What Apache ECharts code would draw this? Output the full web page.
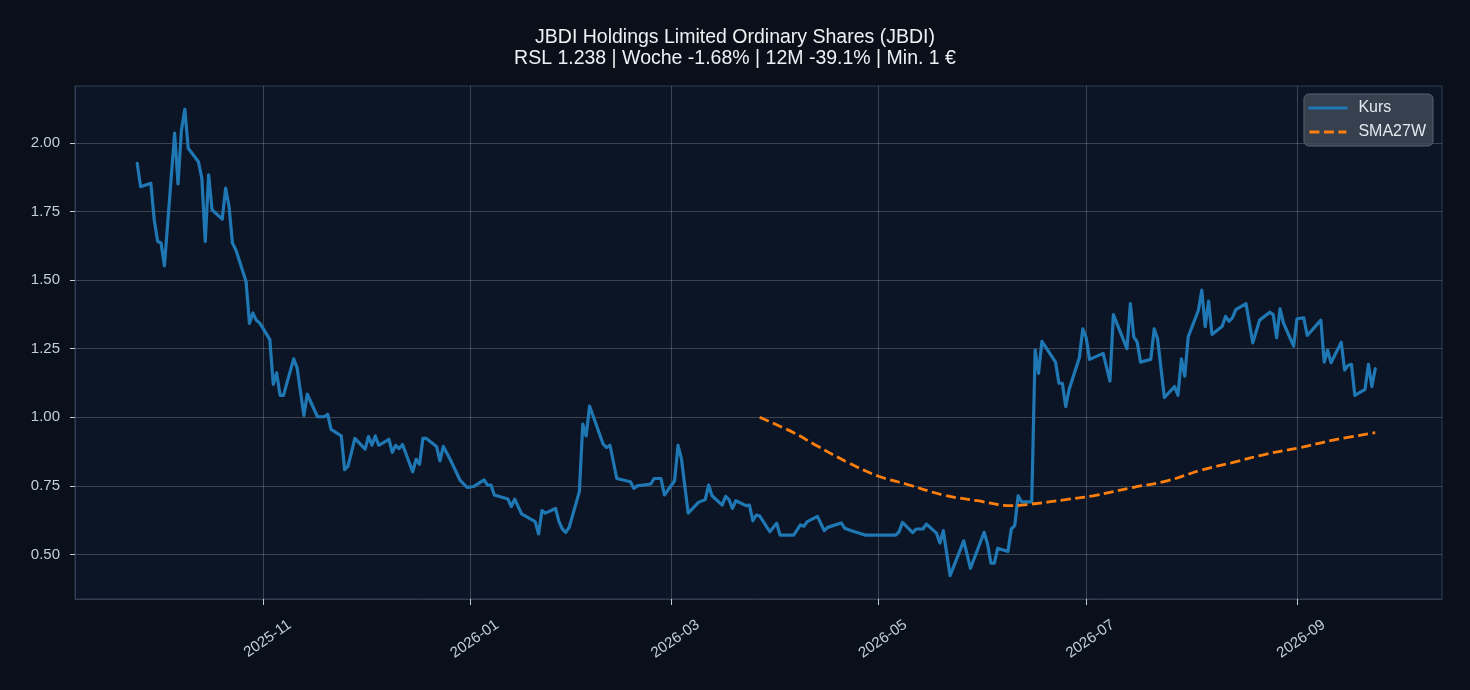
<!DOCTYPE html>
<html>
<head>
<meta charset="utf-8">
<title>JBDI Holdings Limited Ordinary Shares (JBDI)</title>
<script src="https://cdn.jsdelivr.net/npm/echarts@6.0.0/dist/echarts.min.js"></script>
<style>
    html, body { margin: 0; padding: 0; background: #09101a; }
    #canvas { width: 1470px; height: 690px; }
</style>
</head>
<body>
<div id="canvas"></div>
<script>
// Kurs (Tagesschluss)
var kursDates = [
    '2025-09-25', '2025-09-26', '2025-09-29', '2025-09-30',
    '2025-10-01', '2025-10-02', '2025-10-03', '2025-10-06', '2025-10-07', '2025-10-08', '2025-10-09', '2025-10-10',
    '2025-10-13', '2025-10-14', '2025-10-15', '2025-10-16', '2025-10-17', '2025-10-20', '2025-10-21', '2025-10-22',
    '2025-10-23', '2025-10-24', '2025-10-27', '2025-10-28', '2025-10-29', '2025-10-30', '2025-10-31',
    '2025-11-03', '2025-11-04', '2025-11-05', '2025-11-06', '2025-11-07', '2025-11-10', '2025-11-11', '2025-11-13',
    '2025-11-14', '2025-11-17', '2025-11-19', '2025-11-20', '2025-11-21', '2025-11-24', '2025-11-25', '2025-11-26', '2025-11-28',
    '2025-12-01', '2025-12-02', '2025-12-03', '2025-12-04', '2025-12-05', '2025-12-08', '2025-12-09', '2025-12-10',
    '2025-12-11', '2025-12-12', '2025-12-15', '2025-12-16', '2025-12-17', '2025-12-18', '2025-12-19', '2025-12-22',
    '2025-12-23', '2025-12-24', '2025-12-26', '2025-12-29', '2025-12-31',
    '2026-01-02', '2026-01-05', '2026-01-06', '2026-01-07', '2026-01-08', '2026-01-12', '2026-01-13', '2026-01-14',
    '2026-01-16', '2026-01-20', '2026-01-21', '2026-01-22', '2026-01-23', '2026-01-26', '2026-01-27', '2026-01-28',
    '2026-01-29', '2026-01-30',
    '2026-02-02', '2026-02-03', '2026-02-04', '2026-02-05', '2026-02-09', '2026-02-10', '2026-02-11', '2026-02-13',
    '2026-02-17', '2026-02-18', '2026-02-19', '2026-02-23', '2026-02-24', '2026-02-26', '2026-02-27',
    '2026-03-02', '2026-03-03', '2026-03-04', '2026-03-06', '2026-03-09', '2026-03-11', '2026-03-12', '2026-03-13',
    '2026-03-16', '2026-03-17', '2026-03-18', '2026-03-19', '2026-03-20', '2026-03-23', '2026-03-24', '2026-03-25',
    '2026-03-26', '2026-03-27', '2026-03-30',
    '2026-04-01', '2026-04-02', '2026-04-06', '2026-04-08', '2026-04-09', '2026-04-10', '2026-04-13', '2026-04-15',
    '2026-04-16', '2026-04-20', '2026-04-21', '2026-04-23', '2026-04-27',
    '2026-05-06', '2026-05-07', '2026-05-08', '2026-05-11', '2026-05-12', '2026-05-14', '2026-05-15', '2026-05-18',
    '2026-05-19', '2026-05-20', '2026-05-22', '2026-05-26', '2026-05-28',
    '2026-06-01', '2026-06-02', '2026-06-03', '2026-06-04', '2026-06-05', '2026-06-08', '2026-06-09', '2026-06-10',
    '2026-06-11', '2026-06-12', '2026-06-15', '2026-06-16', '2026-06-17', '2026-06-18', '2026-06-22', '2026-06-23',
    '2026-06-24', '2026-06-25', '2026-06-26', '2026-06-29', '2026-06-30',
    '2026-07-01', '2026-07-02', '2026-07-06', '2026-07-08', '2026-07-09', '2026-07-13', '2026-07-14', '2026-07-15',
    '2026-07-16', '2026-07-17', '2026-07-20', '2026-07-21', '2026-07-22', '2026-07-24', '2026-07-27', '2026-07-28',
    '2026-07-29', '2026-07-30', '2026-07-31',
    '2026-08-03', '2026-08-04', '2026-08-05', '2026-08-06', '2026-08-07', '2026-08-10', '2026-08-11', '2026-08-12',
    '2026-08-13', '2026-08-14', '2026-08-17', '2026-08-19', '2026-08-21', '2026-08-24', '2026-08-25', '2026-08-26',
    '2026-08-27', '2026-08-28', '2026-08-31',
    '2026-09-01', '2026-09-03', '2026-09-04', '2026-09-08', '2026-09-09', '2026-09-10', '2026-09-11', '2026-09-14',
    '2026-09-15', '2026-09-16', '2026-09-17', '2026-09-18', '2026-09-21', '2026-09-22', '2026-09-23', '2026-09-24'
];
var kursValues = [
    1.925, 1.840, 1.853, 1.720,
    1.641, 1.635, 1.552, 2.035, 1.850, 2.046, 2.122, 1.980,
    1.931, 1.871, 1.641, 1.883, 1.756, 1.722, 1.835, 1.768,
    1.635, 1.610, 1.495, 1.342, 1.380, 1.354, 1.344,
    1.283, 1.120, 1.162, 1.080, 1.080, 1.213, 1.181, 1.007,
    1.084, 1.002, 1.002, 1.011, 0.956, 0.932, 0.809, 0.823, 0.923,
    0.884, 0.930, 0.898, 0.932, 0.898, 0.920, 0.872, 0.898,
    0.886, 0.901, 0.801, 0.847, 0.829, 0.923, 0.923, 0.894,
    0.841, 0.894, 0.847, 0.769, 0.745,
    0.748, 0.772, 0.753, 0.753, 0.717, 0.702, 0.675, 0.702,
    0.648, 0.620, 0.575, 0.660, 0.651, 0.668, 0.620, 0.593,
    0.581, 0.599,
    0.729, 0.975, 0.932, 1.041, 0.902, 0.890, 0.898, 0.777,
    0.765, 0.741, 0.750, 0.757, 0.777, 0.777, 0.717,
    0.769, 0.898, 0.850, 0.651, 0.690, 0.700, 0.753, 0.714,
    0.680, 0.712, 0.700, 0.668, 0.696, 0.678, 0.680, 0.623,
    0.644, 0.641, 0.583,
    0.614, 0.571, 0.571, 0.608, 0.603, 0.620, 0.639, 0.587,
    0.599, 0.615, 0.596, 0.587, 0.571,
    0.571, 0.583, 0.617, 0.580, 0.593, 0.593, 0.611, 0.578,
    0.542, 0.587, 0.423, 0.550, 0.450,
    0.581, 0.539, 0.469, 0.469, 0.523, 0.511, 0.593, 0.605,
    0.714, 0.692, 0.692, 1.245, 1.160, 1.277, 1.201, 1.124,
    1.124, 1.039, 1.102, 1.217, 1.322,
    1.290, 1.211, 1.233, 1.132, 1.374, 1.250, 1.414, 1.293,
    1.274, 1.201, 1.211, 1.322, 1.286, 1.072, 1.112, 1.080,
    1.213, 1.150, 1.293,
    1.390, 1.463, 1.330, 1.423, 1.302, 1.332, 1.368, 1.350,
    1.362, 1.392, 1.414, 1.271, 1.354, 1.383, 1.374, 1.290,
    1.395, 1.344, 1.259,
    1.359, 1.362, 1.298, 1.354, 1.201, 1.245, 1.199, 1.274,
    1.172, 1.189, 1.193, 1.080, 1.102, 1.193, 1.112, 1.177
];

// gleitender Durchschnitt 27 Wochen
var smaDates = [
    '2026-03-27', '2026-04-06', '2026-04-12', '2026-04-22', '2026-05-01', '2026-05-09', '2026-05-20',
    '2026-05-30', '2026-06-09', '2026-06-15', '2026-06-25', '2026-07-03', '2026-07-15', '2026-07-25',
    '2026-08-04', '2026-08-13', '2026-08-23', '2026-09-02', '2026-09-12', '2026-09-24'
];
var smaValues = [
    1.000, 0.944, 0.902, 0.835, 0.785, 0.757, 0.717,
    0.696, 0.678, 0.684, 0.700, 0.714, 0.745, 0.769,
    0.808, 0.835, 0.866, 0.890, 0.918, 0.944
];

// Achsenbeschriftung
var xTicks = ['2025-11-01', '2026-01-01', '2026-03-01', '2026-05-01', '2026-07-01', '2026-09-01'];
var yTicks = [0.50, 0.75, 1.00, 1.25, 1.50, 1.75, 2.00];

var FONT = "'Liberation Sans', Arial, sans-serif";
var tickColor = '#c5cdd8';
var spineColor = '#2f3d52';
var gridColor = 'rgba(255,255,255,0.2)';

function toTime(s) {
    return echarts.time.parse(s).getTime();
}

var xTickValues = xTicks.map(toTime);

var kursData = [];
for (var i = 0; i < kursDates.length; i++) {
    kursData.push([toTime(kursDates[i]), kursValues[i]]);
}
var smaData = [];
for (var j = 0; j < smaDates.length; j++) {
    smaData.push([toTime(smaDates[j]), smaValues[j]]);
}

var dom = document.getElementById('canvas');
var myChart = echarts.init(dom);

myChart.setOption({
    backgroundColor: '#09101a',
    animation: false,
    title: {
        text: 'JBDI Holdings Limited Ordinary Shares (JBDI)\nRSL 1.238 | Woche -1.68% | 12M -39.1% | Min. 1 €',
        left: 'center',
        top: 27,
        padding: 0,
        textStyle: {
            color: '#eef0f3',
            fontSize: 19.5,
            fontWeight: 'normal',
            fontFamily: FONT,
            lineHeight: 21,
            align: 'center'
        }
    },
    legend: {
        data: ['Kurs', 'SMA27W'],
        orient: 'vertical',
        right: 37,
        top: 94,
        padding: [6, 7, 6, 4],
        itemGap: 8,
        itemWidth: 37,
        itemHeight: 14,
        // nur die Linie im Legendensymbol
        itemStyle: { opacity: 0 },
        lineStyle: { width: 3 },
        backgroundColor: 'rgba(62,72,86,0.85)',
        borderColor: '#58606c',
        borderWidth: 1,
        borderRadius: 5,
        textStyle: {
            color: '#e4e8ee',
            fontSize: 16,
            fontFamily: FONT,
            padding: [0, 0, 0, 7]
        }
    },
    //Plotbereich
    grid: {
        left: 75,
        right: 28,
        top: 86,
        bottom: 91,
        show: true,
        backgroundColor: '#0b1525',
        borderColor: spineColor,
        borderWidth: 1,
        outerBoundsMode: 'none',
        containLabel: false
    },
    // Zeitachse als Zahlenachse, Ticks an den Monatsanfängen
    xAxis: {
        type: 'value',
        min: toTime('2025-09-06 17:00:00'),
        max: toTime('2026-10-13 15:00:00'),
        axisLine: {
            show: true,
            onZero: false,
            lineStyle: { color: spineColor, width: 1 }
        },
        axisTick: {
            show: true,
            length: 6,
            customValues: xTickValues,
            lineStyle: { color: tickColor, width: 1 }
        },
        axisLabel: {
            customValues: xTickValues,
            rotate: 35,
            margin: 7,
            align: 'right',
            verticalAlign: 'top',
            padding: [22, -12, 0, 0],
            color: tickColor,
            fontSize: 15,
            fontFamily: FONT,
            formatter: function (value) {
                return echarts.time.format(value, '{yyyy}-{MM}', false);
            }
        },
        splitLine: {
            show: true,
            lineStyle: { color: gridColor, width: 1 }
        }
    },
    yAxis: {
        type: 'value',
        min: 0.338,
        max: 2.207,
        axisLine: {
            show: true,
            lineStyle: { color: spineColor, width: 1 }
        },
        axisTick: {
            show: true,
            length: 5,
            customValues: yTicks,
            lineStyle: { color: tickColor, width: 1 }
        },
        axisLabel: {
            customValues: yTicks,
            margin: 15,
            color: tickColor,
            fontSize: 15,
            fontFamily: FONT,
            formatter: function (value) {
                return value.toFixed(2);
            }
        },
        splitLine: {
            show: true,
            lineStyle: { color: gridColor, width: 1 }
        }
    },
    series: [{
        name: 'Kurs',
        type: 'line',
        data: kursData,
        symbol: 'none',
        showSymbol: false,
        lineStyle: { color: '#1f77b4', width: 3.2, join: 'round', cap: 'round' },
        itemStyle: { color: '#1f77b4' },
        z: 3
    }, {
        name: 'SMA27W',
        type: 'line',
        data: smaData,
        smooth: 0.4,
        symbol: 'none',
        showSymbol: false,
        lineStyle: { color: '#ff7f0e', width: 2.8, type: [10, 4.5] },
        itemStyle: { color: '#ff7f0e' },
        z: 4
    }]
});
window.onresize = myChart.resize;
</script>
</body>
</html>
